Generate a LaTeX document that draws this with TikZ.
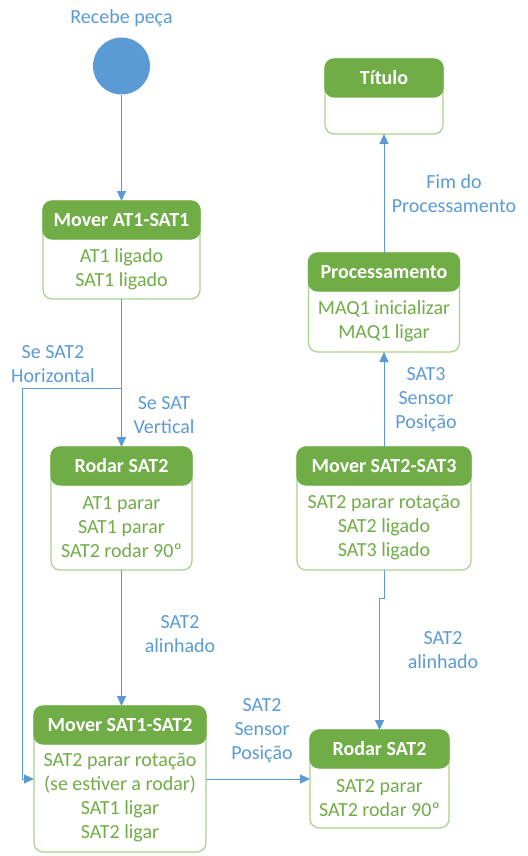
\documentclass[tikz,border=0pt]{standalone}
\usepackage{fontspec}
\setmainfont{Carlito}
\usepackage{xcolor}
\usepackage{tikz}
\usetikzlibrary{positioning, arrows.meta}
\definecolor{gHead}{HTML}{70AD47}
\definecolor{gLine}{HTML}{A9D18E}
\definecolor{gText}{HTML}{70AD47}
\definecolor{bText}{HTML}{5B9BD5}
\definecolor{bLine}{HTML}{5B9BD5}
\tikzset{
  statebox/.style={draw=gLine, line width=1.2pt, rounded corners=9pt, fill=white,
    inner sep=0pt, outer sep=0pt,
    path picture={\fill[gHead] (path picture bounding box.north west)
      rectangle ([yshift=-38pt]path picture bounding box.north east);}},
  hdr/.style={fill=gHead, draw=gHead, line width=1.2pt, rounded corners=9pt,
    minimum height=38pt, inner sep=0pt, outer sep=0pt, anchor=north,
    text=white, execute at begin node=\bfseries},
  body/.style={text=gText, align=center, inner sep=0pt},
  cond/.style={text=bText, align=center, inner sep=0pt},
  flow/.style={draw=bLine, line width=1pt, -{Triangle[width=9pt,length=10pt]}},
}

\begin{document}
\begin{tikzpicture}[x=1pt, y=-1pt, font=\fontsize{20}{24}\selectfont]
  \useasboundingbox (0,0) rectangle (527,856);
  % start
  \node[cond] (recebe) at (121.5,18) {Recebe peça};
  \node[circle, fill=bLine, minimum size=57pt, inner sep=0pt] (start) at (121.5,66) {};
  % left column
  \node[statebox, minimum width=157pt, minimum height=98pt] (mov1) at (121.5,250) {};
  \node[hdr, minimum width=157pt] (mov1-h) at (mov1.north) {Mover AT1-SAT1};
  \node[body] (mov1-b) at (121.5,269) {AT1 ligado\\SAT1 ligado};
  \node[statebox, minimum width=141pt, minimum height=123pt] (rod1) at (121.5,508.5) {};
  \node[hdr, minimum width=141pt] (rod1-h) at (rod1.north) {Rodar SAT2};
  \node[body] (rod1-b) at (121.5,527.5) {AT1 parar\\SAT1 parar\\SAT2 rodar 90º};
  \node[statebox, minimum width=172pt, minimum height=146pt] (mov12) at (120,779) {};
  \node[hdr, minimum width=172pt] (mov12-h) at (mov12.north) {Mover SAT1-SAT2};
  \node[body] (mov12-b) at (120,798) {SAT2 parar rotação\\(se estiver a rodar)\\SAT1 ligar\\SAT2 ligar};
  % right column
  \node[statebox, minimum width=139pt, minimum height=98pt] (rod2) at (379.5,779) {};
  \node[hdr, minimum width=139pt] (rod2-h) at (rod2.north) {Rodar SAT2};
  \node[body] (rod2-b) at (379.5,798) {SAT2 parar\\SAT2 rodar 90º};
  \node[statebox, minimum width=174pt, minimum height=123pt] (mov23) at (384,508.5) {};
  \node[hdr, minimum width=174pt] (mov23-h) at (mov23.north) {Mover SAT2-SAT3};
  \node[body] (mov23-b) at (384,528) {SAT2 parar rotação\\SAT2 ligado\\SAT3 ligado};
  \node[statebox, minimum width=151pt, minimum height=99pt] (proc) at (384,302.5) {};
  \node[hdr, minimum width=151pt] (proc-h) at (proc.north) {Processamento};
  \node[body] (proc-b) at (384,321.5) {MAQ1 inicializar\\MAQ1 ligar};
  \node[statebox, minimum width=118pt, minimum height=75pt] (tit) at (384,96.5) {};
  \node[hdr, minimum width=118pt] (tit-h) at (tit.north) {Título};
  % transitions
  \coordinate (split) at (121.5,388);
  \coordinate (bend) at (22,388);
  \draw[flow] (start) -- (mov1);
  \draw[flow] (mov1) -- (rod1);
  \draw[flow] (split) -- (bend) |- (mov12.west);
  \draw[flow] (rod1.south) -- (rod1.south |- mov12.north);
  \draw[flow] (mov12) -- (rod2);
  \draw[flow] (mov23.south) -- ++(0,28) -| (rod2.north);
  \draw[flow] (mov23) -- (proc);
  \draw[flow] (proc) -- (tit);
  % conditions
  \node[cond] (c-hor) at (53,364) {Se SAT2\\Horizontal};
  \node[cond] (c-ver) at (164,415) {Se SAT\\Vertical};
  \node[cond] (c-al1) at (180,634) {SAT2\\alinhado};
  \node[cond] (c-sp2) at (262,731) {SAT2\\Sensor\\Posição};
  \node[cond] (c-al2) at (443,650) {SAT2\\alinhado};
  \node[cond] (c-sp3) at (426,400) {SAT3\\Sensor\\Posição};
  \node[cond] (c-fim) at (454,194) {Fim do\\Processamento};
\end{tikzpicture}
\end{document}
